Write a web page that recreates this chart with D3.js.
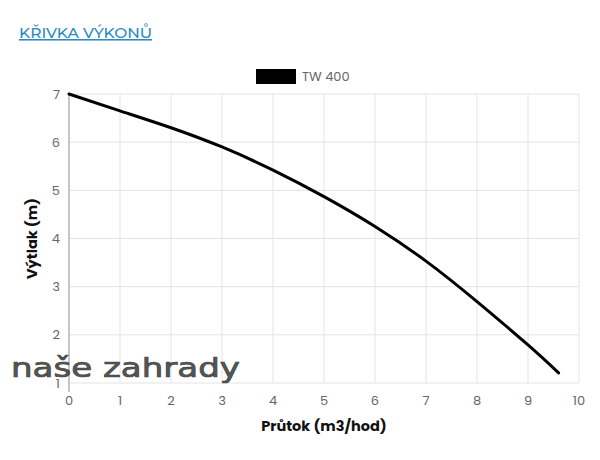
<!DOCTYPE html>
<html><head><meta charset="utf-8">
<script src="https://cdn.jsdelivr.net/npm/d3@7"></script>
<style>body{margin:0;background:#fff}svg{display:block}</style>
</head><body>
<svg id="c" width="600" height="460"></svg>
<script>
const flow = [0, 1, 2, 3, 4, 5, 6, 7, 8, 9, 9.6];
const head = [7, 6.65, 6.3, 5.9, 5.42, 4.87, 4.25, 3.53, 2.69, 1.79, 1.21];
const xTicks = [0,1,2,3,4,5,6,7,8,9,10];
const yTicks = [1,2,3,4,5,6,7];
const seriesName = "TW 400";
const title = "KŘIVKA VÝKONŮ";
const xTitle = "Průtok (m3/hod)";
const yTitle = "Výtlak (m)";
const watermark = "naše zahrady";

const svg = d3.select("#c");
const x = d3.scaleLinear().domain([0,10]).range([69,579]);
const y = d3.scaleLinear().domain([1,7]).range([383,94]);
const font = "Poppins, 'Open Sans', Lato, sans-serif";

// grid
svg.append("g").selectAll("line").data(xTicks.slice(1)).join("line")
  .attr("x1",d=>x(d)).attr("x2",d=>x(d)).attr("y1",y(7)).attr("y2",y(1))
  .attr("stroke","#e4e4e4").attr("stroke-width",1);
svg.append("g").selectAll("line").data(yTicks).join("line")
  .attr("x1",x(0)).attr("x2",x(10)).attr("y1",d=>y(d)).attr("y2",d=>y(d))
  .attr("stroke","#e4e4e4").attr("stroke-width",1);
// y axis line
svg.append("line").attr("x1",x(0)).attr("x2",x(0)).attr("y1",y(7)).attr("y2",y(1)+9)
  .attr("stroke","#a0a0a0").attr("stroke-width",1.2);

// tick labels
svg.append("g").selectAll("text").data(yTicks).join("text")
  .attr("x",60).attr("y",d=>y(d)).attr("dy","0.35em").attr("text-anchor","end")
  .attr("font-family",font).attr("font-size",13).attr("fill","#666").text(d=>d);
svg.append("g").selectAll("text").data(xTicks).join("text")
  .attr("x",d=>x(d)).attr("y",400).attr("dy","0.35em").attr("text-anchor","middle")
  .attr("font-family",font).attr("font-size",13).attr("fill","#666").text(d=>d);

// axis titles
svg.append("text").attr("transform",`translate(37,${(y(1)+y(7))/2}) rotate(-90)`)
  .attr("text-anchor","middle").attr("font-family",font).attr("font-size",14.5)
  .attr("font-weight","bold").attr("fill","#111").text(yTitle);
svg.append("text").attr("x",324).attr("y",431).attr("text-anchor","middle")
  .attr("font-family",font).attr("font-size",14.5).attr("font-weight","bold")
  .attr("fill","#111").text(xTitle);

// line
const pts = flow.map((f,i)=>[f, head[i]]);
svg.append("path").datum(pts)
  .attr("d", d3.line().x(d=>x(d[0])).y(d=>y(d[1])).curve(d3.curveNatural))
  .attr("fill","none").attr("stroke","#000").attr("stroke-width",3)
  .attr("stroke-linecap","round");

// legend
svg.append("rect").attr("x",256).attr("y",69).attr("width",40).attr("height",15).attr("fill","#000");
svg.append("text").attr("x",302).attr("y",76.5).attr("dy","0.35em")
  .attr("font-family",font).attr("font-size",13).attr("fill","#666").text(seriesName);

// title
svg.append("text").attr("x",19).attr("y",38)
  .attr("font-family","Montserrat, 'Noto Sans', 'Open Sans', sans-serif").attr("font-size",15.5)
  .attr("font-weight",500).attr("fill","#2a8ac2").attr("text-decoration","underline").text(title);

// watermark
svg.append("text").attr("x",11).attr("y",377)
  .attr("font-family","'DejaVu Sans', sans-serif").attr("font-size",26)
  .attr("textLength",229).attr("lengthAdjust","spacingAndGlyphs")
  .attr("fill","#454545").attr("stroke","#454545").attr("stroke-width",0.7)
  .attr("fill-opacity",0.92).text(watermark);
</script>
</body></html>
